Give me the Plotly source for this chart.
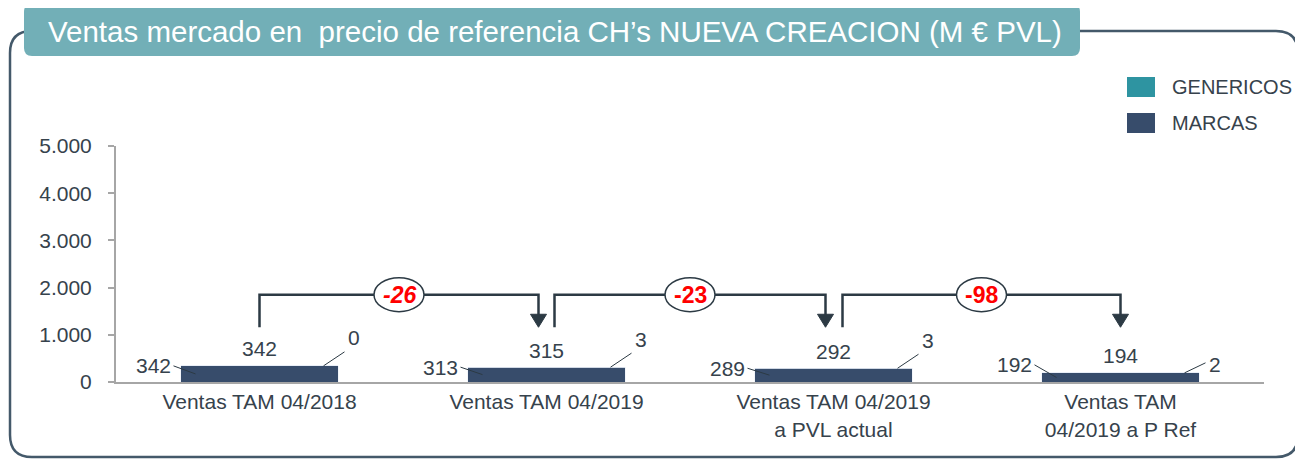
import plotly.graph_objects as go

# ---------------- data ----------------
categories = ["Ventas TAM 04/2018", "Ventas TAM 04/2019",
              "Ventas TAM 04/2019<br>a PVL actual", "Ventas TAM<br>04/2019 a P Ref"]
marcas = [342, 313, 289, 192]
genericos = [0, 3, 3, 2]
totales = [342, 315, 292, 194]
variaciones = [-26, -23, -98]
y_ticks = [0, 1000, 2000, 3000, 4000, 5000]
y_ticktext = ["0", "1.000", "2.000", "3.000", "4.000", "5.000"]
title_text = "Ventas mercado en  precio de referencia CH\u2019s NUEVA CREACION (M \u20ac PVL)"

# ---------------- layout constants (page pixels) ----------------
PAGE_W, PAGE_H = 1303, 459
OFF = 8                       # default body margin of the html page
PL, PR, PT, PB = 116, 1264, 146, 382   # plot area edges in page pixels
W, H = PAGE_W - OFF, PAGE_H - OFF
PW, PH = PR - PL, PB - PT
NCAT = len(categories)
YMAX = 5000
PX_X = PW / NCAT
PX_Y = PH / YMAX

def dx(px):
    return px / PX_X

def dy(px):
    return px / PX_Y

def xp(px):   # page pixel -> paper x
    return (px - PL) / PW

def yp(py):   # page pixel -> paper y
    return (PB - py) / PH

C_MARCAS = "#374C6B"
C_GEN = "#2E94A1"
C_TEXT = "#36424C"
C_AXIS = "#A6A6A6"
C_CONN = "#2C3A44"
C_FRAME = "#44596A"
C_TITLE = "#72AFB7"
FONT = "Liberation Sans, Arial, sans-serif"
FS = 21

x = list(range(NCAT))

fig = go.Figure()
fig.add_trace(go.Bar(x=x, y=marcas, name="MARCAS", marker_color=C_MARCAS,
                     width=0.55, showlegend=False))
fig.add_trace(go.Bar(x=x, y=genericos, name="GENERICOS", marker_color=C_GEN,
                     width=0.55, showlegend=False))

shapes = []
annots = []

# ---------- outer frame and title box ----------
def rounded_path(x0, y0, x1, y1, r):
    pts = [
        ("M", x0 + r, y0), ("L", x1 - r, y0), ("Q", x1, y0, x1, y0 + r),
        ("L", x1, y1 - r), ("Q", x1, y1, x1 - r, y1), ("L", x0 + r, y1),
        ("Q", x0, y1, x0, y1 - r), ("L", x0, y0 + r), ("Q", x0, y0, x0 + r, y0),
    ]
    s = ""
    for p in pts:
        if p[0] == "Q":
            s += f"Q{xp(p[1]):.5f},{yp(p[2]):.5f} {xp(p[3]):.5f},{yp(p[4]):.5f} "
        else:
            s += f"{p[0]}{xp(p[1]):.5f},{yp(p[2]):.5f} "
    return s + "Z"

shapes.append(dict(type="path", xref="paper", yref="paper",
                   path=rounded_path(10, 31, 1298, 457, 22),
                   line=dict(color=C_FRAME, width=2.5), fillcolor="rgba(0,0,0,0)",
                   layer="below"))
shapes.append(dict(type="path", xref="paper", yref="paper",
                   path=rounded_path(24, 4, 1080, 56, 8),
                   line=dict(color=C_TITLE, width=0), fillcolor=C_TITLE, layer="above"))
annots.append(dict(xref="paper", yref="paper", x=xp(46), y=yp(32), text=title_text,
                   showarrow=False, xanchor="left", yanchor="middle",
                   font=dict(family=FONT, size=29.5, color="white")))

# ---------- legend ----------
for name, col, ytop in [("GENERICOS", C_GEN, 77), ("MARCAS", C_MARCAS, 113)]:
    shapes.append(dict(type="rect", xref="paper", yref="paper",
                       x0=xp(1127), x1=xp(1155), y0=yp(ytop), y1=yp(ytop + 20),
                       fillcolor=col, line=dict(width=0)))
    annots.append(dict(xref="paper", yref="paper", x=xp(1170), y=yp(ytop + 10),
                       text=name, showarrow=False, xanchor="left", yanchor="middle",
                       font=dict(family=FONT, size=20, color=C_TEXT)))

# ---------- data labels ----------
left_shift = [0, 0, 0, 8]
right_shift = [28, 28, 28, 8]
right_lead = [14, 14, 14, 10]
for i in range(NCAT):
    tot = totales[i]
    annots.append(dict(x=i, y=tot, text=str(tot), showarrow=False, yshift=17,
                       xanchor="center", yanchor="middle",
                       font=dict(family=FONT, size=FS, color=C_TEXT)))
    ly = tot + dy(left_shift[i])
    annots.append(dict(x=i - dx(87), y=ly, text=str(marcas[i]), showarrow=False,
                       xanchor="right", yanchor="middle",
                       font=dict(family=FONT, size=FS, color=C_TEXT)))
    shapes.append(dict(type="line", xref="x", yref="y",
                       x0=i - dx(86), y0=ly, x1=i - dx(64), y1=marcas[i] / 2,
                       line=dict(color=C_CONN, width=1)))
    ry = tot + dy(right_shift[i])
    annots.append(dict(x=i + dx(86), y=ry, text=str(genericos[i]), showarrow=False,
                       xanchor="left", yanchor="middle",
                       font=dict(family=FONT, size=FS, color=C_TEXT)))
    shapes.append(dict(type="line", xref="x", yref="y",
                       x0=i + dx(64), y0=tot - genericos[i] / 2, x1=i + dx(85),
                       y1=tot + dy(right_lead[i]),
                       line=dict(color=C_CONN, width=1)))

# ---------- connectors with variation bubbles ----------
LEVEL = 1850
START = 1160
TIP = 1160
start_off = [0.0, dx(8), dx(9)]
end_off = [-dx(8), -dx(8), 0.0]
italic = [True, False, False]
for k, v in enumerate(variaciones):
    xs = k + start_off[k]
    xe = k + 1 + end_off[k]
    shapes.append(dict(type="path", xref="x", yref="y",
                       path=f"M{xs},{START} L{xs},{LEVEL} L{xe},{LEVEL} L{xe},{TIP + dy(12)}",
                       line=dict(color=C_CONN, width=2.5), fillcolor="rgba(0,0,0,0)"))
    hw = dx(8)
    shapes.append(dict(type="path", xref="x", yref="y",
                       path=f"M{xe - hw},{TIP + dy(13)} L{xe + hw},{TIP + dy(13)} L{xe},{TIP} Z",
                       line=dict(color=C_CONN, width=1), fillcolor=C_CONN))
    xm = (xs + xe) / 2
    shapes.append(dict(type="circle", xref="x", yref="y", xsizemode="pixel",
                       ysizemode="pixel", xanchor=xm, yanchor=LEVEL,
                       x0=-25, x1=25, y0=-17, y1=17,
                       fillcolor="white", line=dict(color=C_CONN, width=1.5)))
    txt = f"<b>{v}</b>"
    if italic[k]:
        txt = f"<b><i>{v}</i></b>"
    annots.append(dict(x=xm, y=LEVEL, text=txt, showarrow=False,
                       xanchor="center", yanchor="middle",
                       font=dict(family=FONT, size=23, color="#FF0000")))

fig.update_layout(
    width=W, height=H,
    margin=dict(l=PL - OFF, r=PAGE_W - PR, t=PT - OFF, b=PAGE_H - PB),
    paper_bgcolor="white", plot_bgcolor="white",
    barmode="stack", bargap=0.45,
    shapes=shapes, annotations=annots,
    showlegend=False,
    font=dict(family=FONT, color=C_TEXT),
)
fig.update_xaxes(range=[-0.5, NCAT - 0.5], tickvals=x, ticktext=categories,
                 showline=True, linecolor=C_AXIS, linewidth=2, showgrid=False,
                 zeroline=False, ticks="", tickfont=dict(family=FONT, size=FS, color=C_TEXT))
fig.update_yaxes(range=[0, YMAX], tickvals=y_ticks, ticktext=y_ticktext,
                 showline=True, linecolor=C_AXIS, linewidth=2, showgrid=False,
                 zeroline=False, ticks="outside", ticklen=6, tickcolor=C_AXIS,
                 tickwidth=1.5, ticklabelstandoff=12,
                 tickfont=dict(family=FONT, size=FS, color=C_TEXT))

fig.write_html("out.html")
